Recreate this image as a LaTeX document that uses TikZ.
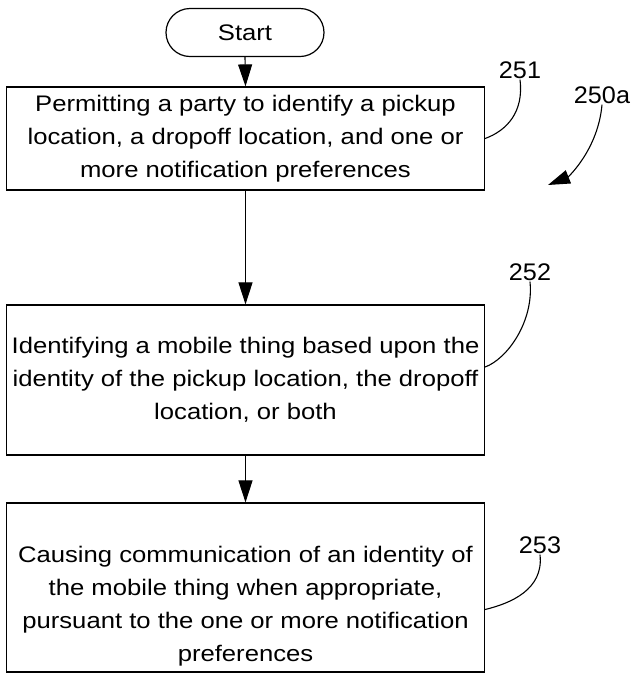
\documentclass[tikz,border=0pt]{standalone}
\usepackage{fontspec}
\setmainfont{Liberation Sans}[FakeStretch=1.14]
\newfontfamily\labelfont{Liberation Sans}[FakeStretch=1.05]
\usetikzlibrary{arrows.meta,shapes.misc}
\begin{document}
\begin{tikzpicture}[x=1pt,y=-1pt,
  boxstyle/.style={draw,line width=1.2pt,minimum width=478pt,inner sep=0pt,
    font=\fontsize{22.5}{33}\selectfont,align=center},
  textstyle/.style={inner sep=0pt,font=\fontsize{22.5}{33}\selectfont,align=center},
  termstyle/.style={draw,line width=1.2pt,rounded rectangle,minimum width=158pt,
    minimum height=48pt,inner sep=0pt,font=\fontsize{22.5}{25}\selectfont},
  flow/.style={line width=1.1pt,-{Triangle[length=22pt,width=14pt]}},
  leader/.style={line width=1.1pt},
  reflabel/.style={font=\labelfont\fontsize{24}{28}\selectfont,inner sep=1pt}]
\useasboundingbox (0,0) rectangle (635,673);

\node[termstyle] (start) at (245,32.5) {Start};
\node[boxstyle,minimum height=103pt] (b1) at (245.5,138.5)
  {Permitting a party to identify a pickup\\location, a dropoff location, and one or\\more notification preferences};
\node[boxstyle,minimum height=150pt] (b2) at (245.5,380)
  {Identifying a mobile thing based upon the\\identity of the pickup location, the dropoff\\location, or both};
\node[boxstyle,minimum height=169pt] (b3) at (245.5,587.5) {};
\node[textstyle] (t3) at (245.5,606)
  {Causing communication of an identity of\\the mobile thing when appropriate,\\pursuant to the one or more notification\\preferences};

\draw[flow] (start.south) -- (b1.north);
\draw[flow] (b1.south) -- (b2.north);
\draw[flow] (b2.south) -- (b3.north);

\node[reflabel] (l251) at (520,70) {251};
\node[reflabel] (l250a) at (602,95) {250a};
\node[reflabel] (l252) at (530,272) {252};
\node[reflabel] (l253) at (540,545) {253};
\coordinate (tip250a) at (548,185);

\draw[leader] (l251.south) .. controls +(4,32) and +(22,-8) .. (b1.east);
\draw[leader,-{Triangle[length=22pt,width=14pt]}] (l250a.south) .. controls +(-4,45) and +(20,-8) .. (tip250a);
\draw[leader] (l252.south) .. controls +(4,40) and +(22,-8) .. ([yshift=13pt]b2.east);
\draw[leader] (l253.south) .. controls +(4,35) and +(25,-6) .. ([yshift=-22pt]b3.east);
\end{tikzpicture}
\end{document}
